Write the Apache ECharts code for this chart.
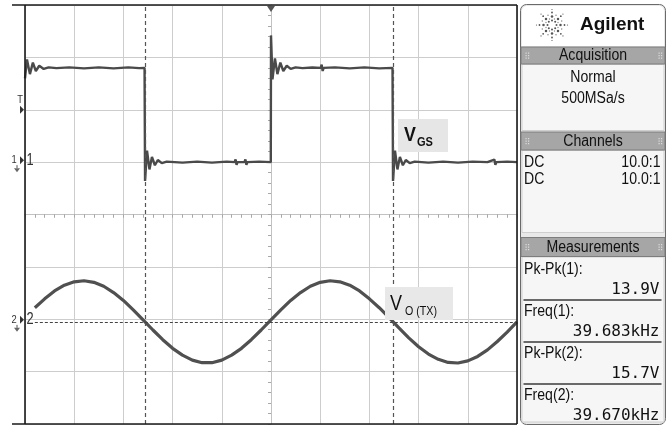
<!DOCTYPE html>
<html>
<head>
<meta charset="utf-8">
<script src="https://cdn.jsdelivr.net/npm/echarts@6/dist/echarts.min.js"></script>
<style>
  html, body { margin: 0; padding: 0; background: #ffffff; }
  #scope { width: 670px; height: 426px; }
</style>
</head>
<body>
<div id="scope"></div>
<script>
// Channel 1: gate drive V_GS (5 V/div), time in microseconds (5 us/div, trigger at 0)
const ch1Time = [
  -25.0, -24.8, -24.5, -24.2, -23.9, -23.55, -23.1, -22.6, -21.8,
  -20.5, -19.0, -17.5, -16.0, -14.5, -13.4, -12.85,
  -12.8, -12.6, -12.35, -12.1, -11.8, -11.5, -11.1, -10.6,
  -9.0, -7.5, -6.0, -4.5, -3.7, -3.6, -3.5, -3.4, -2.7, -2.6, -2.5, -2.4, -1.2, -0.02,
  0.0, 0.15, 0.4, 0.65, 0.95, 1.25, 1.6, 2.0, 2.5, 3.2,
  4.2, 5.05, 5.15, 5.25, 5.35, 6.5, 8.0, 9.5, 11.0, 12.35,
  12.4, 12.6, 12.85, 13.1, 13.4, 13.7, 14.1, 14.6,
  16.0, 17.5, 19.0, 20.5, 22.0, 22.7, 22.8, 22.9, 24.0, 25.0
];
const ch1Volts = [
  8.0, 9.8, 8.4, 9.5, 8.7, 9.2, 8.9, 9.05, 8.97,
  9.05, 8.95, 9.05, 8.95, 9.05, 8.97, 9.0,
  -1.8, 1.1, -0.7, 0.5, -0.3, 0.2, -0.1, 0.05,
  -0.05, 0.05, -0.05, 0.05, 0.0, 0.25, -0.25, 0.0, 0.0, 0.25, -0.25, 0.0, 0.05, 0.0,
  12.1, 7.9, 9.9, 8.4, 9.5, 8.7, 9.2, 8.9, 9.05, 8.97,
  9.03, 9.0, 9.3, 8.7, 9.0, 9.05, 8.95, 9.05, 8.95, 9.0,
  -1.8, 1.1, -0.7, 0.5, -0.3, 0.2, -0.1, 0.05,
  -0.05, 0.05, -0.05, 0.05, 0.0, 0.25, -0.25, 0.0, 0.05, 0.0
];

// Channel 2: transmitter output V_O(TX) (10 V/div)
const ch2Time = [
  -24, -23, -22, -21, -20, -19, -18, -17, -16, -15, -14, -13, -12, -11, -10, -9, -8,
  -7, -6, -5, -4, -3, -2, -1, 0, 1, 2, 3, 4, 5, 6, 7, 8, 9, 10, 11, 12, 13, 14, 15,
  16, 17, 18, 19, 20, 21, 22, 23, 24, 25
];
const ch2Volts = [
  2.7, 4.4, 5.9, 7.0, 7.65, 7.85, 7.55, 6.8, 5.6, 4.1, 2.3, 0.4, -1.55, -3.4, -5.05, -6.35, -7.3,
  -7.8, -7.8, -7.3, -6.35, -5.05, -3.4, -1.55, 0.4, 2.3, 4.1, 5.6, 6.8, 7.55, 7.85, 7.65, 7.0, 5.9, 4.4, 2.7, 0.8, -1.15, -3.05, -4.75,
  -6.15, -7.15, -7.75, -7.85, -7.45, -6.6, -5.35, -3.75, -1.95, 0.0
];

// Cursor positions (us), trigger level (ch1 volts)
const cursorTimes = [-12.8, 12.4];
const triggerLevel = 5;

// Side panel text
const acquisitionLines = ['Normal', '500MSa/s'];
const channelCoupling = ['DC', 'DC'];
const channelProbe = ['10.0:1', '10.0:1'];
const measLabels = ['Pk-Pk(1):', 'Freq(1):', 'Pk-Pk(2):', 'Freq(2):'];
const measValues = ['13.9V', '39.683kHz', '15.7V', '39.670kHz'];

const SANS = "'Liberation Sans',Arial,sans-serif";
const MONO = "'DejaVu Sans Mono','Liberation Mono',monospace";
const NARROW_SCALE = 0.88;
const GRIDC = '#cdcdcd';
const TRACE = '#4a4a4a';

const chart = echarts.init(document.getElementById('scope'), null, { renderer: 'canvas' });

function pairs(xs, ys) { return xs.map((x, i) => [x, ys[i]]); }

function centerAxis(inside, withGrid, extra) {
  return Object.assign({
    type: 'value',
    axisLabel: { show: false },
    axisLine: { show: withGrid, onZero: true, onZeroAxisIndex: 0, lineStyle: { color: '#c2c2c2', width: 1 } },
    axisTick: { show: true, inside: inside, length: 3, lineStyle: { color: '#a8a8a8', width: 1 } },
    minorTick: { show: true, splitNumber: 5, length: 3, lineStyle: { color: '#a8a8a8', width: 1 } },
    splitLine: { show: withGrid, lineStyle: { color: GRIDC, width: 1 } },
    minorSplitLine: { show: false }
  }, extra);
}

chart.setOption({
  animation: false,
  backgroundColor: '#ffffff',
  grid: { left: 25, right: 153, top: 5, bottom: 2, show: false },
  xAxis: [
    centerAxis(false, true, { min: -25, max: 25, interval: 5 }),
    centerAxis(true, false, { min: -25, max: 25, interval: 5 })
  ],
  yAxis: [
    centerAxis(false, true, { min: -4, max: 4, interval: 1 }),
    centerAxis(true, false, { min: -4, max: 4, interval: 1 }),
    { type: 'value', min: -25, max: 15, show: false, splitLine: { show: false } },
    { type: 'value', min: -19.5, max: 60.5, show: false, splitLine: { show: false } }
  ],
  series: [
    {
      name: 'V_GS', type: 'line', xAxisIndex: 0, yAxisIndex: 2,
      data: pairs(ch1Time, ch1Volts), showSymbol: false, symbol: 'none',
      lineStyle: { color: TRACE, width: 2.4 }, z: 3,
      markLine: {
        silent: true, symbol: 'none', label: { show: false },
        lineStyle: { color: '#555555', width: 1.2, type: [4, 3] },
        data: cursorTimes.map(t => ({ xAxis: t }))
      }
    },
    {
      name: 'V_O(TX)', type: 'line', xAxisIndex: 0, yAxisIndex: 3,
      data: pairs(ch2Time, ch2Volts), showSymbol: false, symbol: 'none',
      lineStyle: { color: '#505050', width: 3.2 }, z: 3,
      markLine: {
        silent: true, symbol: 'none', label: { show: false },
        lineStyle: { color: '#444444', width: 1.2, type: [3, 2] },
        data: [[{ coord: [ch2Time[0], 0] }, { coord: [25, 0] }]]
      }
    }
  ]
});

// ---------- overlay: frame, channel markers, labels, side panel ----------
const g = [];
function line(x1, y1, x2, y2, color, w, z) {
  g.push({ type: 'line', z: z || 50, shape: { x1, y1, x2, y2 }, style: { stroke: color, lineWidth: w } });
}
function rect(x, y, w, h, fill, stroke, r, z) {
  g.push({ type: 'rect', z: z || 40, shape: { x, y, width: w, height: h, r: r || 0 },
    style: { fill, stroke: stroke || null, lineWidth: stroke ? 1 : 0 } });
}
function text(x, y, s, font, align, color, z, sx) {
  g.push({ type: 'text', z: z || 60, x, y, scaleX: sx || 1,
    style: { text: s, font, align: align || 'left', verticalAlign: 'middle', fill: color || '#111' } });
}
// condensed panel lettering
function ntext(x, y, s, size, align, weight) {
  text(x, y, s, (weight ? weight + ' ' : '') + size + 'px ' + SANS, align, '#111', 60, NARROW_SCALE);
}
function poly(points, fill, z) {
  g.push({ type: 'polygon', z: z || 55, shape: { points }, style: { fill } });
}

const tl = chart.convertToPixel({ xAxisIndex: 0, yAxisIndex: 0 }, [-25, 4]);
const br = chart.convertToPixel({ xAxisIndex: 0, yAxisIndex: 0 }, [25, -4]);
const L = tl[0], T = tl[1], R = br[0], B = br[1];

// scope frame
line(12, T, R, T, '#1a1a1a', 1.6);
line(12, B, R, B, '#1a1a1a', 1.6);
line(L, T, L, B, '#1a1a1a', 1.6);
line(R, T, R, B, '#1a1a1a', 1.6);

// trigger position marker
const trg = chart.convertToPixel({ xAxisIndex: 0, yAxisIndex: 0 }, [0, 4]);
poly([[trg[0] - 4, T + 1], [trg[0] + 4, T + 1], [trg[0], T + 7]], '#555555');

// trigger level marker
const tlev = chart.convertToPixel({ xAxisIndex: 0, yAxisIndex: 2 }, [-25, triggerLevel]);
text(L - 5, tlev[1] - 10, 'T', '11px ' + SANS, 'center', '#333', 60, 0.85);
poly([[L - 5, tlev[1] - 4], [L - 1, tlev[1]], [L - 5, tlev[1] + 4]], '#333333');

// channel ground markers
function groundMarker(yAxisIndex, label) {
  const p = chart.convertToPixel({ xAxisIndex: 0, yAxisIndex }, [-25, 0]);
  const y = p[1] - 2;
  text(L - 11, y, label, '11px ' + SANS, 'center', '#333', 60, 0.85);
  poly([[L - 5, y - 4], [L - 1, y], [L - 5, y + 4]], '#333333');
  text(L + 5, y, label, '16px ' + SANS, 'center', '#333', 60, 0.8);
  line(L - 8, y + 5, L - 8, y + 8, '#555', 1);
  poly([[L - 11, y + 8], [L - 5, y + 8], [L - 8, y + 12]], '#666666');
}
groundMarker(2, '1');
groundMarker(3, '2');

// trace name tags
rect(398, 119, 50, 33, '#e6e6e6', null, 0, 45);
text(404, 135, 'V', 'bold 21px ' + SANS, 'left', '#111', 60, 0.85);
text(417, 142, 'GS', 'bold 13px ' + SANS, 'left', '#111', 60, 0.85);
rect(385, 287, 68, 33, '#e8e8e8', null, 0, 45);
text(390, 304, 'V', '22px ' + SANS, 'left', '#111', 60, 0.82);
text(405, 311, 'O (TX)', '13px ' + SANS, 'left', '#111', 60, 0.82);

// ---------- side panel ----------
const PX = 520.5, PW = 145, PC = PX + PW / 2;
rect(PX, 4.5, PW, 420, '#e9e9e9', '#6a6a6a', 6, 30);
rect(PX + 1.5, 6, PW - 3, 40, '#ffffff', null, [5, 5, 0, 0], 31);

// logo spark
(function spark(cx, cy) {
  for (let k = 0; k < 8; k++) {
    const a = k * Math.PI / 4;
    [[4.5, 1.0], [8.5, 1.25], [12.5, 0.9], [15.5, 0.6]].forEach(([r, s]) => {
      g.push({ type: 'circle', z: 60, shape: { cx: cx + r * Math.cos(a), cy: cy + r * Math.sin(a), r: s }, style: { fill: '#555' } });
    });
    const b = a + Math.PI / 8;
    [[6.5, 0.7], [10.5, 0.75]].forEach(([r, s]) => {
      g.push({ type: 'circle', z: 60, shape: { cx: cx + r * Math.cos(b), cy: cy + r * Math.sin(b), r: s }, style: { fill: '#8a8a8a' } });
    });
  }
})(552, 25);
text(580, 25, 'Agilent', 'bold 19px ' + SANS, 'left', '#111');

function header(y, h, label) {
  rect(PX + 0.5, y, PW - 1, h, '#a6a6a6', '#7d7d7d', 0, 32);
  ntext(PC, y + h / 2 + 0.5, label, 16, 'center');
  [PX + 5, PX + PW - 7].forEach(gx => {
    for (let i = 0; i < 3; i++) {
      for (let j = 0; j < 2; j++) {
        g.push({ type: 'rect', z: 61, shape: { x: gx + j * 2.5, y: y + h / 2 - 3 + i * 2.5, width: 1.2, height: 1.2 }, style: { fill: '#dcdcdc' } });
      }
    }
  });
}
function box(y, h) { rect(PX + 1.5, y, PW - 3, h, '#f6f6f6', '#cfcfcf', 0, 31); }

header(47, 17, 'Acquisition');
box(64.5, 66);
acquisitionLines.forEach((s, i) => ntext(PC, 78 + i * 21, s, 16, 'center'));

header(132, 18, 'Channels');
box(150.5, 82);
channelCoupling.forEach((s, i) => {
  ntext(PX + 3.5, 163 + i * 17, s, 16, 'left');
  ntext(PX + PW - 5, 163 + i * 17, channelProbe[i], 16, 'right');
});

header(237.5, 19, 'Measurements');
box(257, 165);
measLabels.forEach((s, i) => {
  const y0 = 270 + i * 42;
  ntext(PX + 3.5, y0, s, 16, 'left');
  text(PX + PW - 6, y0 + 20, measValues[i], '16px ' + MONO, 'right', '#111');
  if (i < measLabels.length - 1) line(PX + 3, y0 + 30, PX + PW - 4, y0 + 30, '#3a3a3a', 1.5, 62);
});

chart.setOption({ graphic: g });
</script>
</body>
</html>
